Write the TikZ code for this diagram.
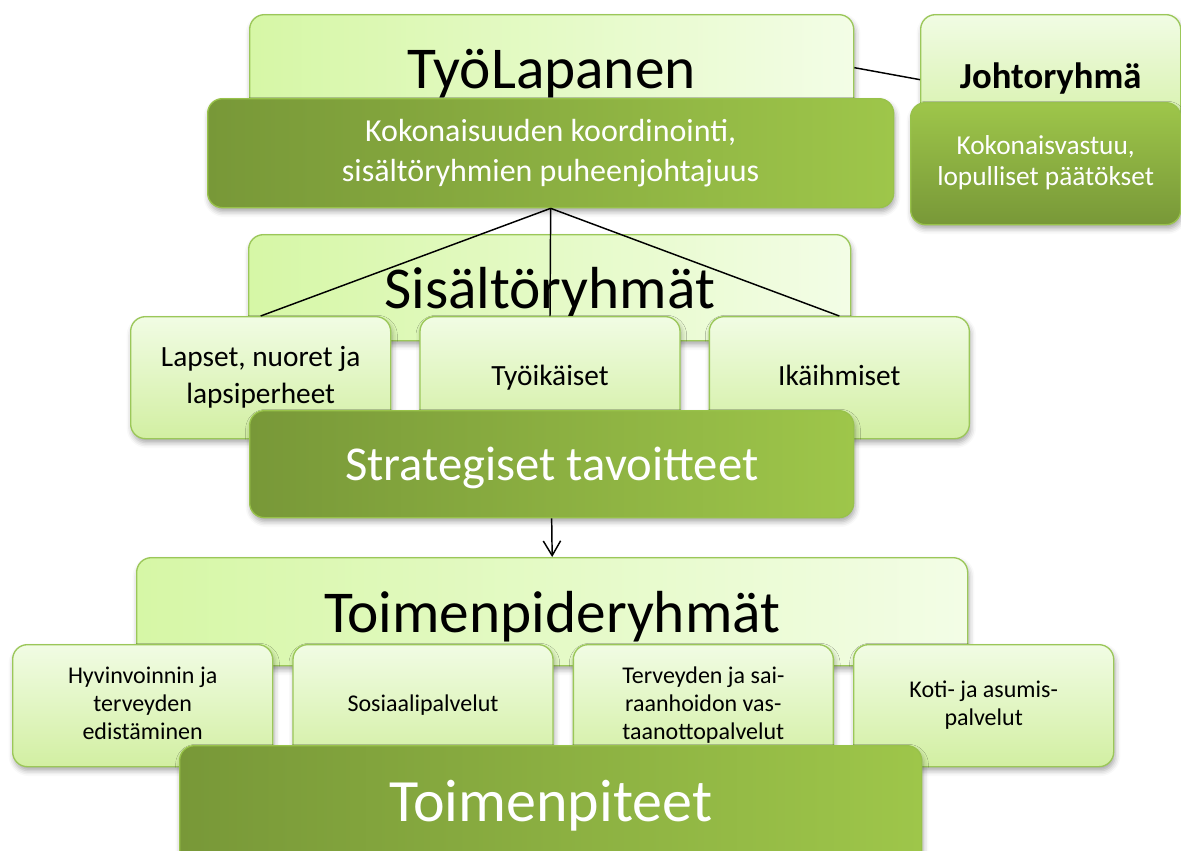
\documentclass[tikz,border=0pt]{standalone}
\usepackage{fontspec}
\setmainfont{Carlito}
\usetikzlibrary{positioning,arrows.meta,shadows.blur}

\definecolor{lightL}{RGB}{214,247,166}
\definecolor{lightR}{RGB}{243,253,230}
\definecolor{childT}{RGB}{241,252,228}
\definecolor{childB}{RGB}{210,239,162}
\definecolor{darkL}{RGB}{120,152,56}
\definecolor{darkR}{RGB}{158,198,74}
\definecolor{boxline}{RGB}{155,199,89}
\definecolor{darkline}{RGB}{152,194,74}

% centred block of lines, each line one \baselineskip high
\newcommand{\boxlines}[1]{\begin{tabular}{@{}c@{}}#1\end{tabular}}

\tikzset{
  boxbase/.style={rounded corners=11pt, draw=boxline, line width=1pt,
    anchor=north west, inner sep=0pt,
    blur shadow={shadow xshift=1pt, shadow yshift=-3pt, shadow blur radius=4pt, shadow opacity=35}},
  lightbox/.style={boxbase, left color=lightL, right color=lightR,
    text height=31.5pt, text depth=0pt, font=\fontsize{44.5}{52}\selectfont},
  childbox/.style={boxbase, top color=childT, bottom color=childB,
    minimum width=195pt, minimum height=91.5pt},
  topkid/.style={childbox, font=\fontsize{22}{28}\selectfont},
  lowkid/.style={childbox, font=\fontsize{18}{21}\selectfont},
  darkbox/.style={boxbase, left color=darkL, right color=darkR, draw=darkline, text=white},
  link/.style={line width=1.1pt},
}

\begin{document}
\begin{tikzpicture}[x=0.75pt, y=-0.75pt]
  \clip (0,0) rectangle (1181,850);

  % top level
  \node[lightbox, minimum width=453pt, minimum height=79.5pt] (tyo) at (249,14) {TyöLapanen};
  \node[darkbox, minimum width=514.5pt, minimum height=81.75pt,
    font=\fontsize{24}{30}\selectfont] (kok) at (207,98)
    {\boxlines{Kokonaisuuden koordinointi,\\ sisältöryhmien puheenjohtajuus}};
  \node[childbox, minimum height=97.5pt,
    font=\bfseries\fontsize{27.5}{32}\selectfont] (johto) at (920,14) {\boxlines{Johtoryhmä}};
  \node[darkbox, top color=darkR, bottom color=darkL, minimum width=202.5pt,
    minimum height=91.5pt, font=\fontsize{20.5}{23.5}\selectfont] (vastuu) at (910,102)
    {\boxlines{Kokonaisvastuu,\\ lopulliset päätökset}};

  % content groups
  \node[lightbox, minimum width=451.5pt, minimum height=79.5pt] (sis) at (248,234) {Sisältöryhmät};
  \node[topkid] (lapset) at (130,316) {\boxlines{Lapset, nuoret ja\\ lapsiperheet}};
  \node[topkid, right=21pt of lapset] (tyoik) {\boxlines{Työikäiset}};
  \node[topkid, right=21pt of tyoik] (ika) {\boxlines{Ikäihmiset}};
  \node[darkbox, minimum width=453pt, minimum height=80.25pt,
    font=\fontsize{36.5}{60}\selectfont] (strat) at (249,410) {\boxlines{Strategiset tavoitteet}};

  % action groups
  \node[lightbox, minimum width=623.25pt, minimum height=81pt] (tpr) at (136,557) {Toimenpideryhmät};
  \node[lowkid] (hyv) at (12,644) {\boxlines{Hyvinvoinnin ja\\ terveyden\\ edistäminen}};
  \node[lowkid, right=14.25pt of hyv] (sos) {\boxlines{Sosiaalipalvelut}};
  \node[lowkid, right=14.25pt of sos] (ter) {\boxlines{Terveyden ja sai-\\ raanhoidon vas-\\ taanottopalvelut}};
  \node[lowkid, right=14.25pt of ter] (koti) {\boxlines{Koti- ja asumis-\\ palvelut}};
  \node[darkbox, minimum width=556.5pt, minimum height=93pt,
    font=\fontsize{45}{52}\selectfont] (tp) at (179,745) {\boxlines{Toimenpiteet}};

  % connectors
  \draw[link] (tyo.east) -- (johto.west);
  \foreach \c in {lapset,tyoik,ika}
    \draw[link] (kok.south) -- (\c.north);
  \draw[link, -{Straight Barb[length=11pt, width=13pt]}] (strat.south) -- (tpr.north);
\end{tikzpicture}
\end{document}
